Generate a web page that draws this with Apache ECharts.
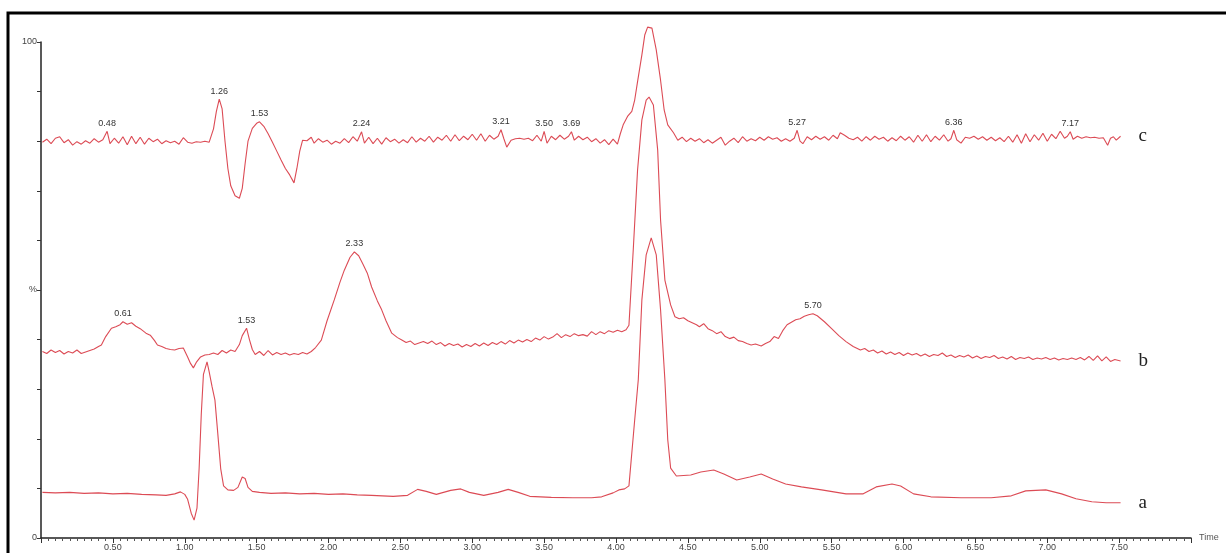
<!DOCTYPE html>
<html>
<head>
<meta charset="utf-8">
<title>Chromatogram</title>
<script src="https://cdn.jsdelivr.net/npm/echarts@6/dist/echarts.min.js"></script>
<style>
  html, body { margin: 0; padding: 0; background: #fff; }
  #chart { width: 1226px; height: 553px; }
</style>
</head>
<body>
<div id="chart"></div>
<script>
// x ticks / y ticks
var timeTicks = ['0.50', '1.00', '1.50', '2.00', '2.50', '3.00', '3.50', '4.00', '4.50', '5.00', '5.50', '6.00', '6.50', '7.00', '7.50'];
var yTickLabels = { 0: '0', 50: '%', 100: '100' };
var seriesNames = ['c', 'b', 'a'];

// trace c (top)
var traceC = [
  [0.01,79.8],[0.04,80.4],[0.07,79.5],[0.10,80.6],[0.13,80.9],[0.16,79.7],[0.19,80.3],[0.22,79.2],[0.25,79.9],[0.28,79.4],
  [0.31,80.1],[0.34,79.6],[0.37,80.5],[0.40,79.8],[0.43,80.3],[0.46,82.0],[0.48,79.5],[0.51,80.6],[0.54,79.6],[0.57,80.9],
  [0.60,79.3],[0.63,81.0],[0.66,79.5],[0.69,80.8],[0.72,79.4],[0.75,80.6],[0.78,79.9],[0.81,80.4],[0.84,79.5],[0.87,80.1],
  [0.90,79.7],[0.93,80.0],[0.96,79.4],[0.99,80.7],[1.02,79.8],[1.05,79.6],[1.08,79.9],[1.11,79.8],[1.14,80.0],[1.17,79.8],
  [1.20,82.5],[1.22,86.0],[1.24,88.5],[1.26,86.5],[1.28,80.0],[1.30,74.5],[1.32,71.0],[1.35,69.0],[1.38,68.5],[1.40,70.5],
  [1.42,75.5],[1.44,80.0],[1.47,82.6],[1.50,83.6],[1.52,83.9],[1.55,83.0],[1.58,81.5],[1.61,79.8],[1.64,78.0],[1.67,76.2],
  [1.70,74.5],[1.73,73.2],[1.76,71.6],[1.78,74.5],[1.80,78.0],[1.82,80.2],[1.85,80.1],[1.88,80.8],[1.90,79.6],[1.93,80.5],
  [1.96,79.8],[1.99,80.2],[2.02,79.4],[2.05,80.0],[2.08,79.6],[2.11,80.5],[2.14,79.7],[2.17,80.9],[2.20,80.0],[2.23,81.9],
  [2.25,79.6],[2.28,80.8],[2.31,79.5],[2.34,80.6],[2.37,79.4],[2.40,80.7],[2.43,79.9],[2.46,80.4],[2.49,79.6],[2.52,80.3],
  [2.55,79.7],[2.58,80.9],[2.61,79.8],[2.64,80.6],[2.67,80.0],[2.70,81.0],[2.73,79.8],[2.76,80.8],[2.79,80.2],[2.82,81.2],
  [2.85,80.0],[2.88,81.3],[2.91,80.1],[2.94,81.0],[2.97,80.3],[3.00,81.4],[3.03,80.2],[3.06,81.5],[3.09,80.0],[3.12,81.2],
  [3.15,80.4],[3.18,81.0],[3.20,82.3],[3.22,80.5],[3.24,78.8],[3.27,80.2],[3.30,80.5],[3.33,80.6],[3.36,80.4],[3.39,80.6],
  [3.42,80.1],[3.45,81.2],[3.48,80.0],[3.50,82.0],[3.52,79.6],[3.55,81.0],[3.58,80.3],[3.61,81.2],[3.64,80.4],[3.67,81.0],
  [3.69,81.9],[3.71,80.2],[3.74,81.0],[3.77,80.3],[3.80,80.8],[3.83,79.9],[3.86,80.5],[3.89,79.6],[3.92,80.3],[3.95,79.3],
  [3.98,80.4],[4.01,79.4],[4.03,81.5],[4.05,83.3],[4.08,85.0],[4.11,86.0],[4.13,88.3],[4.15,92.0],[4.18,97.4],[4.20,101.4],
  [4.22,103.0],[4.25,102.8],[4.28,98.4],[4.31,92.3],[4.335,86.3],[4.36,83.3],[4.40,81.7],[4.43,80.2],[4.46,80.8],[4.49,79.9],
  [4.52,80.6],[4.55,80.0],[4.58,80.5],[4.61,79.7],[4.64,80.3],[4.67,79.6],[4.70,80.2],[4.73,80.8],[4.76,79.2],[4.79,80.0],
  [4.82,80.6],[4.85,79.7],[4.88,80.9],[4.91,80.0],[4.94,80.5],[4.97,80.1],[5.00,80.8],[5.03,80.2],[5.06,80.9],[5.09,80.4],
  [5.12,80.7],[5.15,80.0],[5.18,80.5],[5.21,80.0],[5.24,80.6],[5.26,82.2],[5.28,80.0],[5.30,79.5],[5.33,80.9],[5.36,80.3],
  [5.39,81.0],[5.42,80.4],[5.45,80.9],[5.48,80.2],[5.51,81.2],[5.54,80.5],[5.56,81.7],[5.59,81.2],[5.62,80.6],[5.65,80.3],
  [5.68,80.8],[5.71,80.0],[5.74,80.9],[5.77,80.2],[5.80,81.0],[5.83,80.4],[5.86,80.8],[5.89,80.0],[5.92,80.7],[5.95,80.1],
  [5.98,81.0],[6.01,80.2],[6.04,80.9],[6.07,79.8],[6.10,81.2],[6.13,80.0],[6.16,81.3],[6.19,79.9],[6.22,81.0],[6.25,80.2],
  [6.28,81.3],[6.31,80.0],[6.33,80.5],[6.35,82.2],[6.37,80.3],[6.40,79.6],[6.43,80.8],[6.46,80.6],[6.49,81.0],[6.52,80.4],
  [6.55,80.9],[6.58,80.2],[6.61,80.8],[6.64,80.1],[6.67,80.7],[6.70,79.9],[6.73,81.0],[6.76,79.8],[6.79,81.3],[6.82,79.6],
  [6.85,81.5],[6.88,79.9],[6.91,81.3],[6.94,80.2],[6.97,81.6],[7.00,80.0],[7.03,81.4],[7.06,80.5],[7.09,82.0],[7.12,80.6],
  [7.14,81.0],[7.16,81.9],[7.18,80.4],[7.21,81.0],[7.24,80.6],[7.27,80.9],[7.30,80.7],[7.33,80.8],[7.36,80.6],[7.39,80.7],
  [7.42,79.2],[7.44,80.6],[7.46,80.9],[7.48,80.2],[7.51,81.0]
];

// trace b (middle)
var traceB = [
  [0.01,37.6],[0.04,37.2],[0.07,37.9],[0.10,37.4],[0.13,37.8],[0.16,37.1],[0.19,37.6],[0.22,37.3],[0.25,37.9],[0.28,37.2],
  [0.31,37.5],[0.34,37.8],[0.37,38.1],[0.40,38.6],[0.42,38.9],[0.45,40.6],[0.49,42.3],[0.52,42.6],[0.55,43.0],[0.57,43.6],
  [0.60,43.1],[0.63,43.4],[0.66,42.7],[0.69,42.2],[0.73,41.3],[0.76,40.9],[0.79,39.8],[0.81,38.9],[0.84,38.6],[0.87,38.2],
  [0.90,38.0],[0.93,37.9],[0.96,38.2],[0.99,38.3],[1.02,36.5],[1.04,35.2],[1.06,34.3],[1.08,35.4],[1.11,36.5],[1.14,36.9],
  [1.17,37.0],[1.20,37.3],[1.23,37.0],[1.26,37.8],[1.29,37.3],[1.32,37.9],[1.35,37.6],[1.38,39.0],[1.40,40.8],[1.43,42.3],
  [1.45,40.0],[1.47,38.0],[1.49,37.0],[1.52,37.6],[1.55,36.8],[1.58,37.8],[1.61,36.9],[1.64,37.4],[1.67,37.0],[1.70,37.3],
  [1.73,36.9],[1.76,37.2],[1.79,37.0],[1.82,37.4],[1.85,37.1],[1.88,37.6],[1.91,38.4],[1.95,39.9],[1.99,43.8],[2.04,48.0],
  [2.08,51.6],[2.11,54.0],[2.15,56.6],[2.18,57.7],[2.21,56.9],[2.24,55.2],[2.27,53.4],[2.30,50.6],[2.34,47.8],[2.37,46.0],
  [2.40,43.8],[2.44,41.3],[2.48,40.4],[2.51,39.9],[2.54,39.4],[2.57,39.7],[2.60,39.0],[2.63,39.3],[2.66,39.6],[2.69,39.2],
  [2.72,39.7],[2.75,39.0],[2.78,39.4],[2.81,38.7],[2.84,39.2],[2.87,38.8],[2.90,39.1],[2.93,38.5],[2.96,39.0],[2.99,38.6],
  [3.02,39.2],[3.05,38.7],[3.08,39.3],[3.11,38.8],[3.14,39.4],[3.17,39.0],[3.20,39.6],[3.23,39.1],[3.26,39.8],[3.29,39.3],
  [3.32,39.9],[3.35,39.5],[3.38,40.0],[3.41,39.6],[3.44,40.3],[3.47,39.9],[3.50,40.6],[3.53,40.1],[3.56,40.5],[3.59,41.2],
  [3.62,40.4],[3.65,41.0],[3.68,40.6],[3.71,41.2],[3.74,40.8],[3.77,41.0],[3.80,40.7],[3.83,41.6],[3.86,41.0],[3.89,41.6],
  [3.92,41.2],[3.95,41.8],[3.98,41.5],[4.01,41.9],[4.04,41.6],[4.07,42.0],[4.09,42.9],[4.12,58.1],[4.15,74.2],[4.18,84.3],
  [4.21,88.3],[4.23,88.9],[4.26,87.3],[4.29,78.2],[4.31,64.1],[4.34,52.0],[4.38,47.0],[4.41,44.6],[4.44,44.2],[4.47,44.4],
  [4.50,43.8],[4.53,43.4],[4.56,43.0],[4.58,42.6],[4.61,43.2],[4.64,42.2],[4.67,41.8],[4.70,41.2],[4.73,41.6],[4.76,40.6],
  [4.79,40.2],[4.82,40.5],[4.85,39.8],[4.88,39.6],[4.91,39.2],[4.94,38.9],[4.97,39.1],[5.01,38.7],[5.04,39.2],[5.07,39.6],
  [5.10,40.6],[5.13,40.2],[5.16,41.8],[5.19,43.0],[5.22,43.5],[5.25,44.0],[5.28,44.2],[5.31,44.7],[5.34,45.0],[5.37,45.2],
  [5.40,44.8],[5.45,43.6],[5.50,42.2],[5.55,40.8],[5.60,39.6],[5.65,38.6],[5.70,37.9],[5.73,38.2],[5.76,37.6],[5.79,37.9],
  [5.82,37.3],[5.85,37.7],[5.88,37.1],[5.91,37.5],[5.94,37.0],[5.97,37.4],[6.00,36.8],[6.03,37.3],[6.06,36.9],[6.09,37.2],
  [6.12,36.7],[6.15,37.1],[6.18,36.6],[6.21,37.0],[6.24,36.8],[6.27,37.3],[6.30,36.6],[6.33,36.9],[6.36,36.4],[6.39,36.8],
  [6.42,36.5],[6.45,36.9],[6.48,36.3],[6.51,36.7],[6.54,36.2],[6.57,36.6],[6.60,36.4],[6.63,36.8],[6.66,36.2],[6.69,36.5],
  [6.72,36.1],[6.75,36.6],[6.78,36.0],[6.81,36.4],[6.84,36.2],[6.87,36.5],[6.90,36.0],[6.93,36.3],[6.96,36.1],[6.99,36.4],
  [7.02,36.0],[7.05,36.3],[7.08,35.9],[7.11,36.2],[7.14,36.0],[7.17,36.3],[7.20,36.0],[7.23,36.4],[7.26,35.9],[7.29,36.6],
  [7.32,35.8],[7.35,36.7],[7.38,35.7],[7.41,36.5],[7.44,35.6],[7.47,36.0],[7.51,35.7]
];

// trace a (bottom)
var traceA = [
  [0.01,9.2],[0.10,9.1],[0.20,9.2],[0.30,9.0],[0.40,9.1],[0.50,8.9],[0.60,9.0],[0.70,8.8],[0.80,8.7],[0.87,8.6],
  [0.93,8.9],[0.97,9.3],[1.00,8.8],[1.02,7.8],[1.045,5.0],[1.065,3.6],[1.085,6.0],[1.10,14.0],[1.115,25.0],[1.13,33.0],
  [1.155,35.5],[1.17,33.5],[1.19,30.5],[1.21,27.8],[1.23,21.0],[1.25,14.0],[1.27,10.5],[1.30,9.7],[1.34,9.6],[1.37,10.2],
  [1.40,12.3],[1.42,12.0],[1.44,10.2],[1.47,9.4],[1.52,9.2],[1.60,9.0],[1.70,9.1],[1.80,8.9],[1.90,9.0],[2.00,8.8],
  [2.10,8.9],[2.20,8.7],[2.30,8.6],[2.45,8.4],[2.55,8.6],[2.62,9.8],[2.68,9.4],[2.75,8.8],[2.85,9.6],[2.92,9.9],
  [2.98,9.2],[3.08,8.6],[3.18,9.2],[3.25,9.8],[3.32,9.2],[3.40,8.4],[3.55,8.2],[3.70,8.1],[3.83,8.1],[3.90,8.3],
  [3.98,9.1],[4.02,9.7],[4.06,9.9],[4.09,10.5],[4.13,23.8],[4.155,31.9],[4.18,48.0],[4.21,57.1],[4.245,60.5],[4.28,57.1],
  [4.31,46.0],[4.34,31.9],[4.36,19.8],[4.38,14.1],[4.42,12.5],[4.52,12.7],[4.59,13.3],[4.68,13.7],[4.75,12.9],[4.84,11.7],
  [4.93,12.3],[5.01,12.9],[5.09,11.9],[5.18,10.9],[5.29,10.3],[5.43,9.7],[5.60,8.9],[5.72,8.9],[5.81,10.3],[5.92,10.9],
  [5.98,10.5],[6.07,8.9],[6.19,8.3],[6.40,8.1],[6.61,8.1],[6.75,8.5],[6.85,9.5],[6.99,9.7],[7.10,8.9],[7.20,7.9],
  [7.31,7.3],[7.41,7.1],[7.51,7.1]
];

// peak labels: [retention time, text]
var peaksC = [[0.46,'0.48'],[1.24,'1.26'],[1.52,'1.53'],[2.23,'2.24'],[3.20,'3.21'],[3.50,'3.50'],[3.69,'3.69'],[4.22,'4.22'],[5.26,'5.27'],[6.35,'6.36'],[7.16,'7.17']];
var peaksB = [[0.57,'0.61'],[1.43,'1.53'],[2.18,'2.33'],[5.37,'5.70']];
var peaksA = [];

var chart = echarts.init(document.getElementById('chart'));
var lineColor = '#dc4b55';

function peakMarks(data, peaks) {
    var marks = [];
    peaks.forEach(function(p) {
        var best = data[0];
        data.forEach(function(d) {
            if (Math.abs(d[0] - p[0]) < Math.abs(best[0] - p[0])) best = d;
        });
        marks.push({ name: p[1], coord: [best[0], best[1]] });
    });
    return marks;
}

function trace(name, data, peaks) {
    return {
        name: name,
        type: 'line',
        data: data,
        symbol: 'none',
        clip: false,
        lineStyle: { color: lineColor, width: 1.1 },
        endLabel: {
            show: true,
            formatter: '{a}',
            distance: 18,
            color: '#222',
            fontFamily: 'Liberation Serif',
            fontSize: 19
        },
        markPoint: {
            symbol: 'circle',
            symbolSize: 1,
            itemStyle: { color: 'rgba(0,0,0,0)' },
            label: {
                show: true,
                position: 'top',
                distance: 3,
                formatter: '{b}',
                color: '#333',
                fontFamily: 'Liberation Sans',
                fontSize: 9
            },
            data: peakMarks(data, peaks)
        }
    };
}

chart.setOption({
    animation: false,
    backgroundColor: '#fff',
    grid: { left: 41, right: 35, top: 42, bottom: 15 },
    xAxis: {
        type: 'value',
        min: 0,
        max: 8,
        interval: 0.5,
        name: 'Time',
        nameLocation: 'end',
        nameGap: 8,
        nameTextStyle: { color: '#555', fontSize: 9, fontFamily: 'Liberation Sans', verticalAlign: 'middle' },
        axisLine: { lineStyle: { color: '#222', width: 1.5 } },
        axisTick: { length: 5, lineStyle: { color: '#333' } },
        minorTick: { show: true, splitNumber: 10, length: 3, lineStyle: { color: '#555' } },
        splitLine: { show: false },
        axisLabel: {
            color: '#444',
            fontSize: 9,
            fontFamily: 'Liberation Sans',
            margin: 5,
            showMaxLabel: false,
            formatter: function(v) {
                var s = v.toFixed(2);
                return timeTicks.indexOf(s) >= 0 ? s : '';
            }
        }
    },
    yAxis: {
        type: 'value',
        min: 0,
        max: 100,
        interval: 10,
        axisLine: { show: true, lineStyle: { color: '#222', width: 1.5 } },
        axisTick: { show: true, length: 4, lineStyle: { color: '#333' } },
        splitLine: { show: false },
        axisLabel: {
            color: '#444',
            fontSize: 9,
            fontFamily: 'Liberation Sans',
            margin: 4,
            formatter: function(v) {
                return yTickLabels[v] !== undefined ? yTickLabels[v] : '';
            }
        }
    },
    graphic: [{
        type: 'polyline',
        shape: { points: [[8, 553], [8, 13], [1226, 13]] },
        style: { stroke: '#000', lineWidth: 3, fill: null },
        z: 100
    }],
    series: [
        trace(seriesNames[0], traceC, peaksC),
        trace(seriesNames[1], traceB, peaksB),
        trace(seriesNames[2], traceA, peaksA)
    ]
});
</script>
</body>
</html>
